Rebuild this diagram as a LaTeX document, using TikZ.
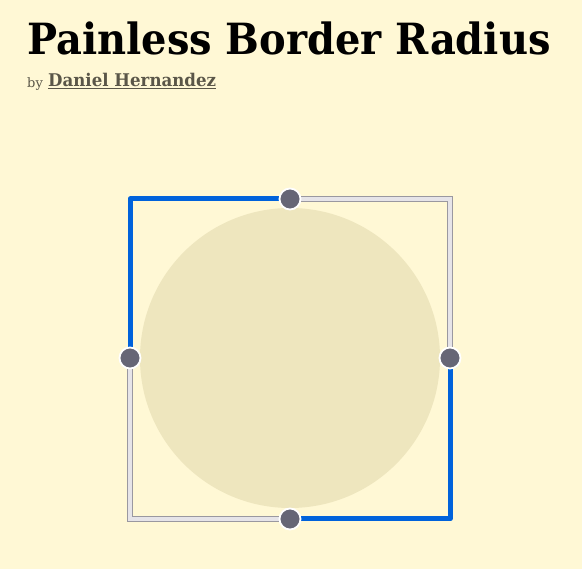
\documentclass[tikz,border=0pt]{standalone}
\usepackage{fontspec}
\setmainfont{DejaVu Serif}
\newfontfamily\slab{DejaVu Serif}
\definecolor{bg}{HTML}{FFF8D5}
\definecolor{disc}{HTML}{EEE6BE}
\definecolor{blu}{HTML}{0062DB}
\definecolor{track}{HTML}{E6E4E8}
\definecolor{trackedge}{HTML}{9A98A0}
\definecolor{knob}{HTML}{666676}
\definecolor{author}{HTML}{5A5648}
\begin{document}
\begin{tikzpicture}[x=1pt,y=-1pt,
  trackline/.style={line width=5.5pt,draw=trackedge,line cap=round},
  trackfill/.style={line width=3.4pt,draw=track,line cap=round},
  blueline/.style={line width=5pt,draw=blu,line cap=round,line join=round},
  handle/.style={circle,fill=knob,draw=white,line width=1.8pt,minimum size=21pt,inner sep=0pt}]
\fill[bg] (0,0) rectangle (582,569);
\useasboundingbox (0,0) rectangle (582,569);
% title
\node[anchor=base west,inner sep=0pt,xscale=0.93,font=\slab\bfseries\fontsize{43}{48}\selectfont] (title) at (27,55) {Painless Border Radius};
\node[anchor=base west,inner sep=0pt,text=author,font=\fontsize{13}{15}\selectfont] (by) at (27,88) {by};
\node[anchor=base west,inner sep=0pt,text=author,xscale=0.95,font=\bfseries\fontsize{17.5}{20}\selectfont] (name) at (48,87) {\underline{Daniel Hernandez}};
% disc
\fill[disc] (290,358) circle (150);
% coordinates
\coordinate (tl) at (130,199);
\coordinate (tr) at (450,199);
\coordinate (bl) at (130,519);
\coordinate (br) at (450,519);
% gray tracks
\draw[trackline] (290,199) -- (tr) -- (450,358);
\draw[trackfill] (290,199) -- (tr) -- (450,358);
\draw[trackline] (130,358) -- (bl) -- (290,519);
\draw[trackfill] (130,358) -- (bl) -- (290,519);
% blue segments
\draw[blueline] (290,199) -- (tl) -- (130,358);
\draw[blueline] (450,358) -- (br) -- (290,519);
% handles
\node[handle] (ht) at (290,199) {};
\node[handle] (hl) at (130,358) {};
\node[handle] (hr) at (450,358) {};
\node[handle] (hb) at (290,519) {};
\end{tikzpicture}
\end{document}
